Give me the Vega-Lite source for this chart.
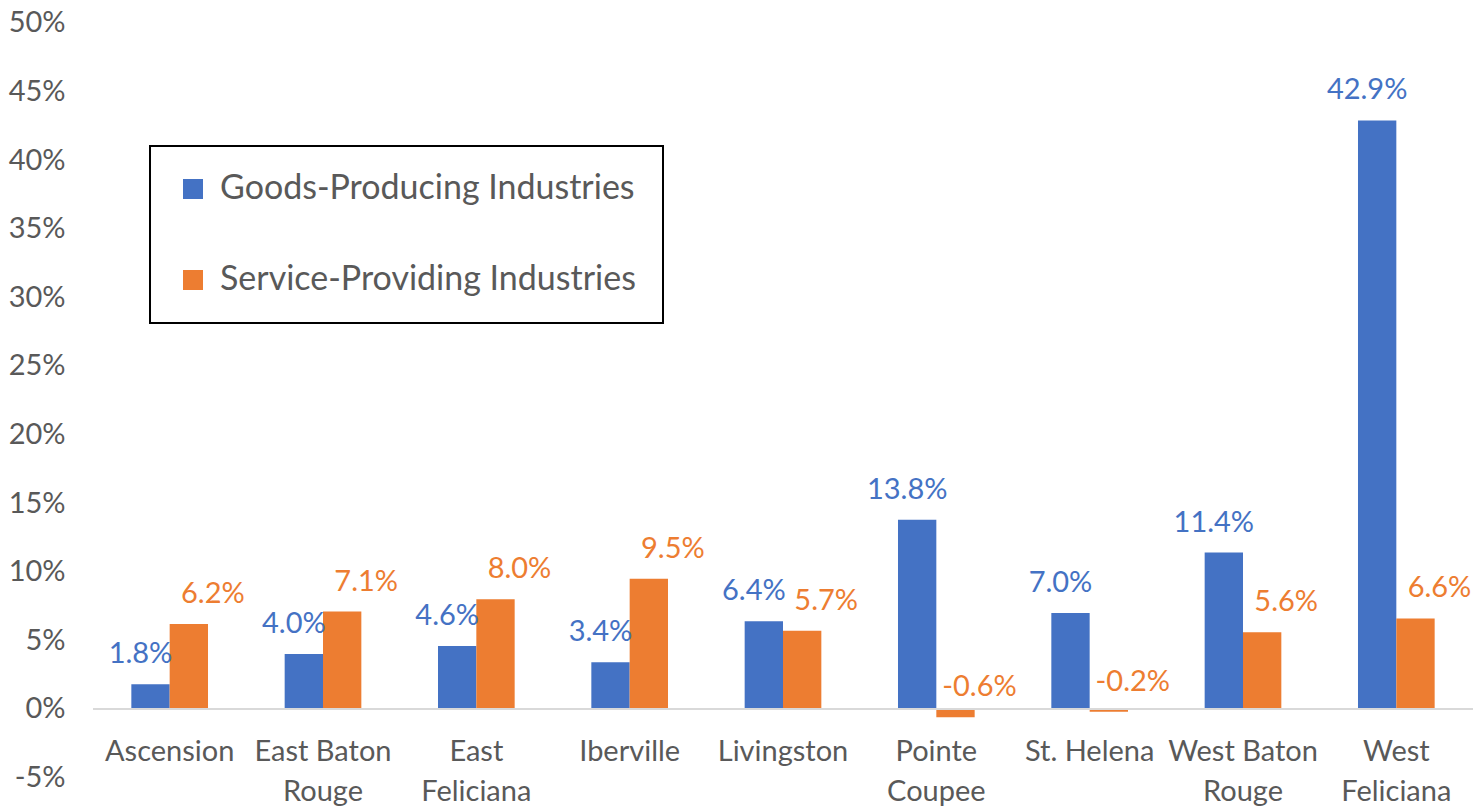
{
  "$schema": "https://vega.github.io/schema/vega-lite/v6.json",
  "width": 1380,
  "height": 754.6,
  "autosize": {"type": "none"},
  "padding": {"left": 93, "top": 23, "right": 0, "bottom": 30},
  "config": {
    "view": {"stroke": null},
    "font": "Lato",
    "locale": {"number": {"decimal": ".", "thousands": ",", "grouping": [3], "currency": ["$", ""], "minus": "-"}},
    "legend": {"strokeWidth": 2}
  },
  "data": {
    "values": [
      {"parish": "Ascension", "series": "Goods-Producing Industries", "value": 0.018},
      {"parish": "Ascension", "series": "Service-Providing Industries", "value": 0.062},
      {"parish": "East Baton Rouge", "series": "Goods-Producing Industries", "value": 0.040},
      {"parish": "East Baton Rouge", "series": "Service-Providing Industries", "value": 0.071},
      {"parish": "East Feliciana", "series": "Goods-Producing Industries", "value": 0.046},
      {"parish": "East Feliciana", "series": "Service-Providing Industries", "value": 0.080},
      {"parish": "Iberville", "series": "Goods-Producing Industries", "value": 0.034},
      {"parish": "Iberville", "series": "Service-Providing Industries", "value": 0.095},
      {"parish": "Livingston", "series": "Goods-Producing Industries", "value": 0.064},
      {"parish": "Livingston", "series": "Service-Providing Industries", "value": 0.057},
      {"parish": "Pointe Coupee", "series": "Goods-Producing Industries", "value": 0.138},
      {"parish": "Pointe Coupee", "series": "Service-Providing Industries", "value": -0.006},
      {"parish": "St. Helena", "series": "Goods-Producing Industries", "value": 0.070},
      {"parish": "St. Helena", "series": "Service-Providing Industries", "value": -0.002},
      {"parish": "West Baton Rouge", "series": "Goods-Producing Industries", "value": 0.114},
      {"parish": "West Baton Rouge", "series": "Service-Providing Industries", "value": 0.056},
      {"parish": "West Feliciana", "series": "Goods-Producing Industries", "value": 0.429},
      {"parish": "West Feliciana", "series": "Service-Providing Industries", "value": 0.066}
    ]
  },
  "layer": [
    {
      "mark": {"type": "bar"},
      "encoding": {
        "x": {
          "field": "parish", "type": "nominal", "sort": null,
          "scale": {"paddingInner": 0.5, "paddingOuter": 0.25},
          "axis": {
            "title": null, "domain": false, "ticks": false, "labelAngle": 0,
            "labelFontSize": 29, "labelColor": "#595959", "labelLineHeight": 40,
            "labelPadding": -40, "labelOverlap": false, "labelBound": false,
            "labelExpr": "length(datum.value) > 10 ? [substring(datum.value, 0, lastindexof(datum.value, ' ')), substring(datum.value, lastindexof(datum.value, ' ') + 1)] : datum.value"
          }
        },
        "xOffset": {"field": "series", "type": "nominal", "scale": {"domain": ["Goods-Producing Industries", "Service-Providing Industries"]}},
        "y": {
          "field": "value", "type": "quantitative",
          "scale": {"domain": [-0.05, 0.5], "nice": false, "zero": false},
          "axis": {
            "title": null, "domain": false, "ticks": false, "grid": false,
            "values": [-0.05, 0, 0.05, 0.1, 0.15, 0.2, 0.25, 0.3, 0.35, 0.4, 0.45, 0.5],
            "format": ".0%", "labelFontSize": 29, "labelColor": "#595959", "labelPadding": 28
          }
        },
        "color": {
          "field": "series", "type": "nominal",
          "scale": {"domain": ["Goods-Producing Industries", "Service-Providing Industries"], "range": ["#4472C4", "#ED7D31"]},
          "legend": {
            "title": null, "orient": "none", "legendX": 57, "legendY": 123,
            "symbolType": "square", "symbolSize": 400, "symbolStrokeWidth": 0,
            "labelFontSize": 34, "labelColor": "#595959", "labelOffset": 10,
            "rowPadding": 57, "padding": 26, "strokeColor": "black", "labelLimit": 1000
          }
        }
      }
    },
    {
      "data": {"values": [{"zero": 0}]},
      "mark": {"type": "rule", "color": "#D9D9D9", "strokeWidth": 2},
      "encoding": {"y": {"field": "zero", "type": "quantitative"}}
    },
    {
      "transform": [{"filter": "datum.series == 'Goods-Producing Industries'"}],
      "mark": {"type": "text", "color": "#4472C4", "fontSize": 29, "dx": -10, "dy": -30, "baseline": "middle"},
      "encoding": {
        "x": {"field": "parish", "type": "nominal", "sort": null},
        "xOffset": {"field": "series", "type": "nominal"},
        "y": {"field": "value", "type": "quantitative"},
        "text": {"field": "value", "type": "quantitative", "format": ".1%"}
      }
    },
    {
      "transform": [{"filter": "datum.series == 'Service-Providing Industries'"}],
      "mark": {"type": "text", "color": "#ED7D31", "fontSize": 29, "dx": 24, "dy": -30, "baseline": "middle"},
      "encoding": {
        "x": {"field": "parish", "type": "nominal", "sort": null},
        "xOffset": {"field": "series", "type": "nominal"},
        "y": {"field": "value", "type": "quantitative"},
        "text": {"field": "value", "type": "quantitative", "format": ".1%"}
      }
    }
  ]
}
